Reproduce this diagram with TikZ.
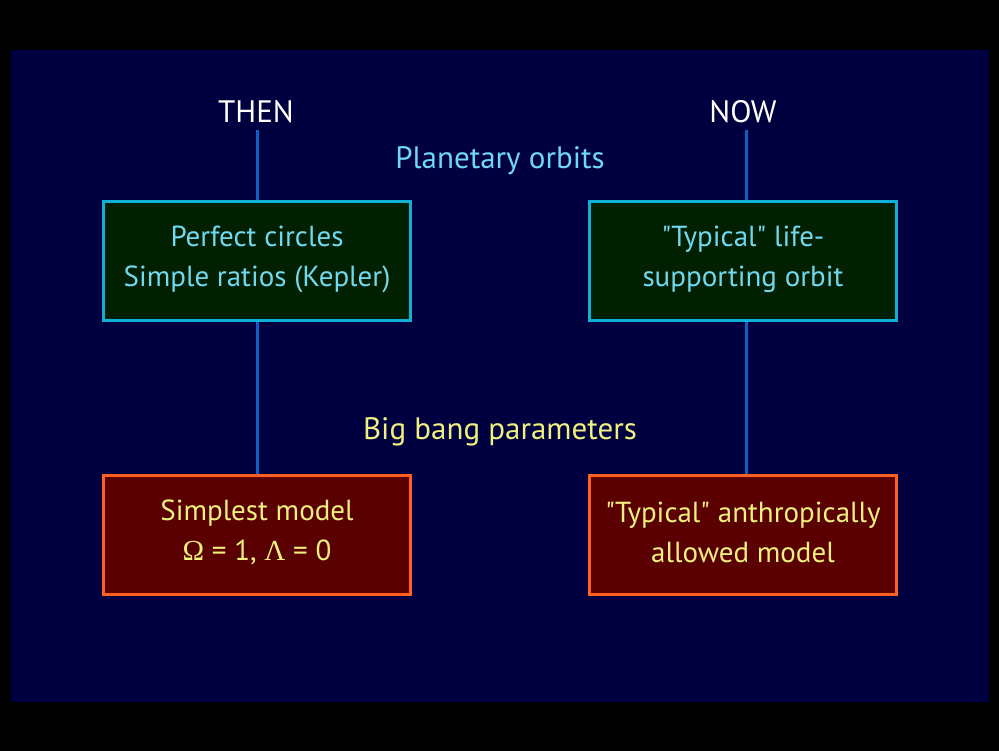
\documentclass[tikz,border=0pt]{standalone}
\usepackage{fontspec}
\setmainfont{PT Sans}
\newfontfamily\grk{Liberation Serif}
\definecolor{navy}{HTML}{000040}
\definecolor{linkblue}{HTML}{1060C0}
\definecolor{skytext}{HTML}{70D8F0}
\definecolor{sunytext}{HTML}{F0F080}
\definecolor{cyanedge}{HTML}{10B0D8}
\definecolor{greenfill}{HTML}{002000}
\definecolor{orangeedge}{HTML}{FF6020}
\definecolor{redfill}{HTML}{5A0000}
\tikzset{
  panel/.style={line width=3pt, minimum width=307pt, minimum height=119pt,
    align=center, font=\fontsize{29}{40}\selectfont, inner sep=0pt},
  orbitbox/.style={panel, draw=cyanedge, fill=greenfill},
  bangbox/.style={panel, draw=orangeedge, fill=redfill},
  heading/.style={text=white, font=\fontsize{31}{36}\selectfont, inner sep=0pt},
  topic/.style={font=\fontsize{31}{36}\selectfont, inner sep=0pt},
  link/.style={draw=linkblue, line width=3pt}
}
\begin{document}
\begin{tikzpicture}[x=1pt, y=-1pt]
  \fill[black] (0,0) rectangle (999,751);
  \useasboundingbox (0,0) rectangle (999,751);
  \fill[navy] (11,50) rectangle (989,702);

  \node[heading] (then) at (256,112) {THEN};
  \node[heading] (now) at (743,112) {NOW};
  \coordinate (thentop) at (257,130);
  \coordinate (nowtop) at (746,130);

  % boxes
  \node[orbitbox] (circles) at (257,261) {};
  \node[orbitbox] (lifeorbit) at (743,261) {};
  \node[bangbox] (simplest) at (257,535) {};
  \node[bangbox] (anthropic) at (743,535) {};

  % box captions
  \node[panel, text=skytext] (circlestext) at (257,259) {Perfect circles\\Simple ratios (Kepler)};
  \node[panel, text=skytext] (lifetext) at (743,259) {\textquotedbl Typical\textquotedbl{} life-\\supporting orbit};
  \node[panel, text=sunytext] (simpletext) at (257,532) {Simplest model\\{\grk Ω} = 1, {\grk Λ} = 0};
  \node[panel, text=sunytext] (anthrotext) at (743,532) {\textquotedbl Typical\textquotedbl{} anthropically\\allowed model};

  \node[topic, text=skytext] (planetary) at (500,161) {Planetary orbits};
  \node[topic, text=sunytext] (bigbang) at (500,432) {Big bang parameters};

  \draw[link] (thentop) -- (circles.north);
  \draw[link] (circles.south) -- (simplest.north);
  \draw[link] (nowtop) -- (nowtop |- lifeorbit.north);
  \draw[link] (nowtop |- lifeorbit.south) -- (nowtop |- anthropic.north);
\end{tikzpicture}
\end{document}
